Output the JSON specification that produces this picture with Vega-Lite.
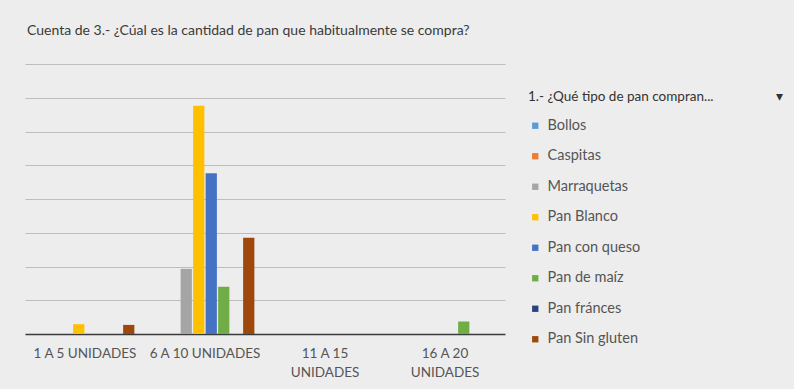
{
  "$schema": "https://vega.github.io/schema/vega-lite/v6.json",
  "autosize": {"type": "none"},
  "padding": {"left": 25, "top": 64, "right": 289, "bottom": 55},
  "width": 480,
  "height": 270,
  "background": "#ededed",
  "title": {
    "text": "Cuenta de 3.- ¿Cúal es la cantidad de pan que habitualmente se compra?",
    "anchor": "start",
    "dx": 2,
    "offset": 26,
    "font": "Lato",
    "fontSize": 14,
    "fontWeight": "normal",
    "color": "#3a3a3a"
  },
  "data": {
    "values": [
      {"rango": "1 A 5 UNIDADES", "tipo": "Pan Blanco", "cuenta": 0.29},
      {"rango": "1 A 5 UNIDADES", "tipo": "Pan Sin gluten", "cuenta": 0.27},
      {"rango": "6 A 10 UNIDADES", "tipo": "Marraquetas", "cuenta": 1.93},
      {"rango": "6 A 10 UNIDADES", "tipo": "Pan Blanco", "cuenta": 6.76},
      {"rango": "6 A 10 UNIDADES", "tipo": "Pan con queso", "cuenta": 4.76},
      {"rango": "6 A 10 UNIDADES", "tipo": "Pan de maíz", "cuenta": 1.4},
      {"rango": "6 A 10 UNIDADES", "tipo": "Pan Sin gluten", "cuenta": 2.85},
      {"rango": "16 A 20 UNIDADES", "tipo": "Pan de maíz", "cuenta": 0.37}
    ]
  },
  "mark": {"type": "bar"},
  "encoding": {
    "x": {
      "field": "rango",
      "type": "nominal",
      "sort": ["1 A 5 UNIDADES", "6 A 10 UNIDADES", "11 A 15 UNIDADES", "16 A 20 UNIDADES"],
      "scale": {"domain": ["1 A 5 UNIDADES", "6 A 10 UNIDADES", "11 A 15 UNIDADES", "16 A 20 UNIDADES"], "paddingInner": 0, "paddingOuter": 0},
      "axis": {
        "title": null,
        "labelAngle": 0,
        "ticks": false,
        "labelFont": "Lato",
        "labelFontSize": 13.5,
        "labelColor": "#555555",
        "labelPadding": 12,
        "labelLineHeight": 19,
        "labelDx": 4,
        "domainColor": "#3a3a3a",
        "domainWidth": 1.5,
        "labelExpr": "datum.value == '11 A 15 UNIDADES' ? ['11 A 15', 'UNIDADES'] : datum.value == '16 A 20 UNIDADES' ? ['16 A 20', 'UNIDADES'] : datum.label"
      }
    },
    "xOffset": {
      "field": "tipo",
      "type": "nominal",
      "scale": {
        "domain": ["Bollos", "Caspitas", "Marraquetas", "Pan Blanco", "Pan con queso", "Pan de maíz", "Pan fránces", "Pan Sin gluten"],
        "paddingInner": 0.1,
        "paddingOuter": 0.85
      }
    },
    "y": {
      "field": "cuenta",
      "type": "quantitative",
      "scale": {"domain": [0, 8], "nice": false},
      "axis": {
        "title": null,
        "labels": false,
        "ticks": false,
        "domain": false,
        "values": [1, 2, 3, 4, 5, 6, 7, 8],
        "gridColor": "#bdbdbd",
        "gridWidth": 1
      }
    },
    "color": {
      "field": "tipo",
      "type": "nominal",
      "scale": {
        "domain": ["Bollos", "Caspitas", "Marraquetas", "Pan Blanco", "Pan con queso", "Pan de maíz", "Pan fránces", "Pan Sin gluten"],
        "range": ["#5B9BD5", "#ED7D31", "#A5A5A5", "#FFC000", "#4472C4", "#70AD47", "#264478", "#9E480E"]
      },
      "legend": {
        "title": "1.- ¿Qué tipo de pan compran...\u00a0\u00a0\u00a0\u00a0\u00a0\u00a0\u00a0\u00a0\u00a0\u00a0\u00a0\u00a0\u00a0\u00a0\u00a0\u00a0\u00a0\u00a0▾",
        "orient": "none",
        "legendX": 503,
        "legendY": 26,
        "titleLimit": 400,
        "titleFont": "Lato",
        "titleFontSize": 13.5,
        "titleFontWeight": "normal",
        "titleColor": "#333333",
        "titlePadding": 15,
        "labelFont": "Lato",
        "labelFontSize": 14.5,
        "labelColor": "#555555",
        "symbolType": "square",
        "symbolSize": 40,
        "symbolStrokeWidth": 0,
        "rowPadding": 15.5,
        "labelOffset": 5
      }
    }
  },
  "config": {
    "view": {"stroke": null}
  }
}
